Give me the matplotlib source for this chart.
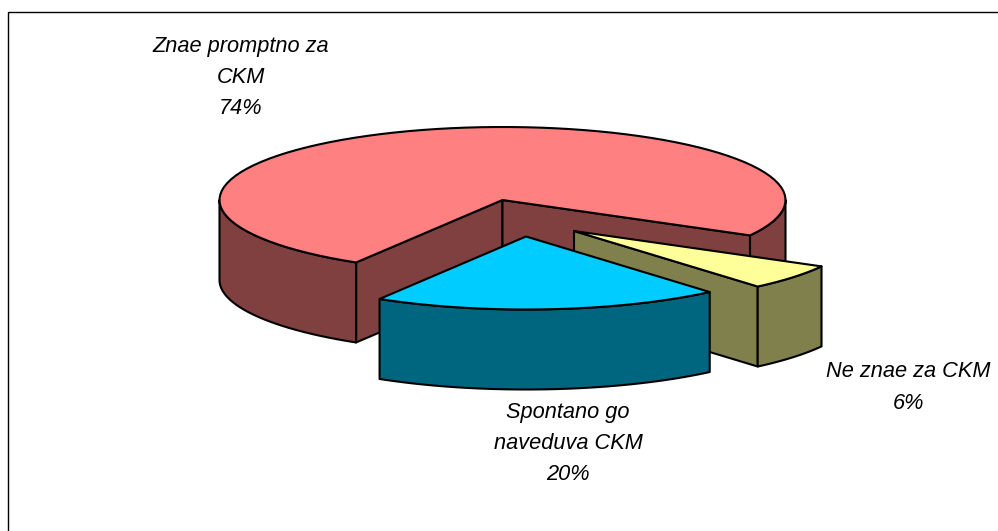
import numpy as np
import matplotlib
matplotlib.use("Agg")
import matplotlib.pyplot as plt
from matplotlib.patches import Polygon

# Data, clockwise from the yellow slice
categories = ["Ne znae za CKM", "Spontano go\nnaveduva CKM", "Znae promptno za\nCKM"]
shares = [5.7, 19.9, 74.4]
percent_labels = ["6%", "20%", "74%"]

colors_top = ["#FFFF99", "#00CCFF", "#FF8080"]
colors_side = ["#80804D", "#006680", "#804040"]

CX, CY, RX, RY, DEPTH = 502.5, 200, 283, 73, 80
START = 29
explode = [(71.5, 31), (23.5, 36.5), (0, 0)]
label_pos = [(908.5, 387.5), (568, 443.5), (240.5, 77.5)]
LW = 1.5

fig = plt.figure(figsize=(9.98, 5.31), dpi=100)
ax = fig.add_axes([0, 0, 1, 1])
ax.set_xlim(0, 998)
ax.set_ylim(531, 0)
ax.axis("off")

ends = START + np.cumsum(shares) * 3.6
starts = np.r_[START, ends[:-1]]


def pt(t, cx, cy):
    r = np.radians(t)
    return cx + RX * np.cos(r), cy + RY * np.sin(r)


def arc(t0, t1, cx, cy):
    t = np.linspace(t0, t1, 90)
    r = np.radians(t)
    return np.c_[cx + RX * np.cos(r), cy + RY * np.sin(r)]


def face(xy, color, z):
    ax.add_patch(Polygon(xy, closed=True, fc=color, ec="black", lw=LW,
                         joinstyle="round", zorder=z))


def outer_wall(t0, t1, cx, cy, color, z):
    a = arc(t0, t1, cx, cy)
    face(np.r_[a, (a + [0, DEPTH])[::-1]], color, z)


def radial_wall(t, cx, cy, color, z):
    p = pt(t, cx, cy)
    face([(cx, cy), p, (p[0], p[1] + DEPTH), (cx, cy + DEPTH)], color, z)


def top(t0, t1, cx, cy, color, z):
    face(np.r_[[(cx, cy)], arc(t0, t1, cx, cy)], color, z)


# Large slice (index 2): spans round through the back
s, e = starts[2], ends[2]
dx, dy = explode[2]
cx, cy = CX + dx, CY + dy
radial_wall(s, cx, cy, colors_side[2], 1)
radial_wall(e - 360, cx, cy, colors_side[2], 1)
outer_wall(s, 180, cx, cy, colors_side[2], 1)
outer_wall(360, e, cx, cy, colors_side[2], 1)
top(s, e, cx, cy, colors_top[2], 2)

# Yellow slice (index 0)
s, e = starts[0], ends[0]
dx, dy = explode[0]
cx, cy = CX + dx, CY + dy
radial_wall(e, cx, cy, colors_side[0], 3)
outer_wall(s, e, cx, cy, colors_side[0], 3)
top(s, e, cx, cy, colors_top[0], 4)

# Blue slice (index 1)
s, e = starts[1], ends[1]
dx, dy = explode[1]
cx, cy = CX + dx, CY + dy
outer_wall(s, e, cx, cy, colors_side[1], 5)
top(s, e, cx, cy, colors_top[1], 6)

# Frame (runs off the right and bottom of the picture)
ax.plot([8, 8, 998], [531, 12, 12], color="black", lw=1.0, zorder=7,
        solid_joinstyle="miter", clip_on=True)

for name, pct, (x, y) in zip(categories, percent_labels, label_pos):
    ax.text(x, y, f"{name}\n{pct}", ha="center", va="center", ma="center",
            family="Liberation Sans", style="italic", fontsize=15.7,
            linespacing=1.63, color="black", zorder=8)

fig.savefig("out.png", dpi=100, facecolor="white")
